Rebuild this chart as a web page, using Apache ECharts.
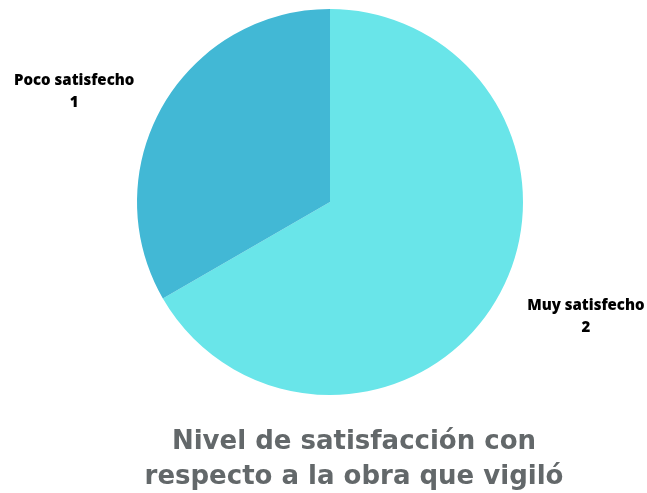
<!DOCTYPE html>
<html style="height: 100%">
<head>
    <meta charset="utf-8" />
    <title>Nivel de satisfacción</title>
    <script type="text/javascript" src="https://cdn.jsdelivr.net/npm/echarts@6/dist/echarts.min.js"></script>
</head>
<body style="height: 100%; margin: 0; background: #fff">
<div id="Pie" style="height: 100%"></div>
<script type="text/javascript">
      // datos
      var categorias = ["Muy satisfecho", "Poco satisfecho"];
      var valores = [2, 1];
      var colores = ["#69e5e9", "#42b8d5"];
      var titulo = "Nivel de satisfacción con\nrespecto a la obra que vigiló";

      var myChart = echarts.init(document.getElementById("Pie"));
      var option = {
        animation: false,
        title: {
          text: titulo,
          left: 349,
          top: 420,
          textAlign: "center",
          textStyle: {
            fontFamily: "DejaVu Sans",
            fontWeight: "bold",
            fontSize: 26,
            lineHeight: 35,
            color: "#63686a"
          }
        },
        series: [
          {
            type: "pie",
            center: [330, 202],
            radius: 193,
            startAngle: 90,
            clockwise: true,
            data: categorias.map(function (c, i) {
              return { name: c, value: valores[i], itemStyle: { color: colores[i] } };
            }),
            label: {
              show: true,
              position: "outside",
              formatter: "{b}\n{c}",
              fontFamily: "Open Sans",
              fontWeight: 800,
              fontSize: 15,
              lineHeight: 22,
              color: "#000",
              overflow: "none"
            },
            labelLine: { show: false, length: 32, length2: 56 },
            labelLayout: function () {
              return { align: "center", dy: 2 };
            }
          }
        ]
      };
      myChart.setOption(option);
      window.addEventListener("resize", function () {
        myChart.resize();
      });
</script>
</body>
</html>
